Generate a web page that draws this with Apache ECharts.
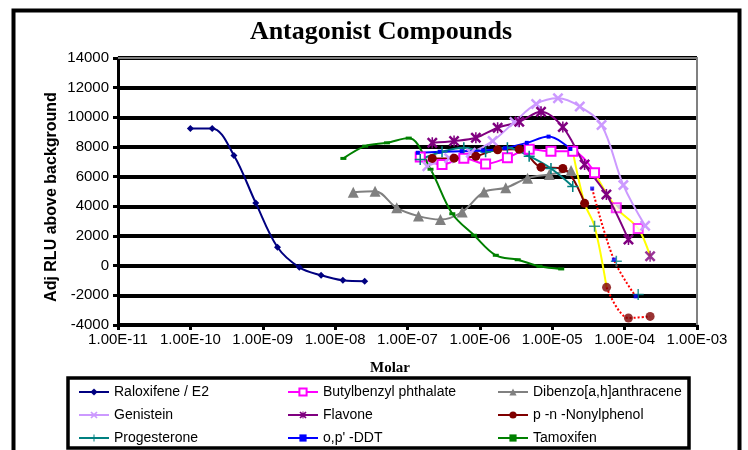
<!DOCTYPE html>
<html lang="en">
<head>
<meta charset="UTF-8">
<title>Antagonist Compounds</title>
<script src="https://cdn.jsdelivr.net/npm/echarts@6/dist/echarts.min.js"></script>
<style>
  html, body { margin: 0; padding: 0; background: #fff; }
  #main { width: 748px; height: 450px; }
</style>
</head>
<body>
<div id="main"></div>
<script>
// x tick labels (one per decade, 1e-11 .. 1e-3)
var xTickLabels = ['1.00E-11', '1.00E-10', '1.00E-09', '1.00E-08', '1.00E-07',
                   '1.00E-06', '1.00E-05', '1.00E-04', '1.00E-03'];

// [molar, adj RLU]
var raloxifene = [[1e-10, 9250], [2e-10, 9250], [4e-10, 7430], [8e-10, 4230], [1.6e-9, 1240],
                  [3.2e-9, -110], [6.4e-9, -650], [1.28e-8, -990], [2.56e-8, -1050]];
var butylbenzyl = [[1.5e-7, 7320], [3e-7, 6820], [6e-7, 7250], [1.2e-6, 6860], [2.4e-6, 7270],
                   [4.8e-6, 7840], [9.6e-6, 7720], [1.92e-5, 7720], [3.84e-5, 6260]];
var butylbenzylTail = [[7.68e-5, 3900], [1.54e-4, 2500]];
var dibenzo = [[1.78e-8, 4950], [3.56e-8, 5020], [7.1e-8, 3900], [1.42e-7, 3340], [2.85e-7, 3110],
               [5.7e-7, 3620], [1.14e-6, 4970], [2.28e-6, 5250], [4.56e-6, 5900], [9.1e-6, 6150],
               [1.82e-5, 6420]];
var genistein = [[1.88e-7, 6710], [3.76e-7, 7250], [7.5e-7, 7610], [1.5e-6, 8400], [3e-6, 9680],
                 [6e-6, 10900], [1.2e-5, 11280], [2.4e-5, 10730], [4.8e-5, 9480], [9.6e-5, 5430],
                 [1.92e-4, 2690]];
var flavone = [[2.2e-7, 8280], [4.4e-7, 8400], [8.8e-7, 8620], [1.76e-6, 9300], [3.5e-6, 9700],
               [7e-6, 10380], [1.4e-5, 9340], [2.8e-5, 6820], [5.6e-5, 4800], [1.13e-4, 1760]];
var flavoneTail = [[2.25e-4, 640]];
var nonylphenol = [[2.2e-7, 7230], [4.4e-7, 7250], [8.8e-7, 7380], [1.76e-6, 7810], [3.5e-6, 7840],
                   [7e-6, 6640], [1.4e-5, 6550], [2.8e-5, 4200]];
var nonylphenolTail = [[5.63e-5, -1460], [1.13e-4, -3530], [2.25e-4, -3420]];
var progesterone = [[1.5e-7, 7160], [3e-7, 7680], [6e-7, 7950], [1.2e-6, 7680], [2.4e-6, 7950],
                    [4.8e-6, 7380], [9.6e-6, 6550], [1.92e-5, 5340]];
var progesteroneTail = [[3.84e-5, 2660], [7.68e-5, 300], [1.54e-4, -1950]];
var ddt = [[1.39e-7, 7610], [2.78e-7, 7680], [5.6e-7, 7720], [1.11e-6, 7770], [2.22e-6, 7920],
           [4.45e-6, 8280], [8.9e-6, 8700], [1.78e-5, 7870]];
var ddtTail = [[3.56e-5, 5200], [7.1e-5, 410], [1.42e-4, -2070]];
var tamoxifen = [[1.3e-8, 7230], [2.6e-8, 8060], [5.2e-8, 8280], [1.04e-7, 8600], [2.08e-7, 6500],
                 [4.16e-7, 3500], [8.32e-7, 2050], [1.66e-6, 700], [3.33e-6, 400], [6.66e-6, -40],
                 [1.33e-5, -220]];

// highlighted high-dose segments (yellow solid, red dotted)
var yellowA = [[1.92e-5, 7720], [2.8e-5, 4200], [3.84e-5, 2660], [5.63e-5, -1460]];
var yellowB = [[3.84e-5, 6260], [7.68e-5, 3900], [1.54e-4, 2500], [2.25e-4, 640]];
var redA = [[3.56e-5, 5200], [7.1e-5, 410], [1.42e-4, -2070]];
var redB = [[5.63e-5, -1460], [1.13e-4, -3530], [2.25e-4, -3420]];

var SANS = 'Liberation Sans, Arial, sans-serif';
var SERIF = 'Liberation Serif, Times New Roman, serif';

var xMark = 'path://M0,1.6L1.6,0L5,3.4L8.4,0L10,1.6L6.6,5L10,8.4L8.4,10L5,6.6L1.6,10L0,8.4L3.4,5Z';
var plusMark = 'path://M4.3,0H5.7V4.3H10V5.7H5.7V10H4.3V5.7H0V4.3H4.3Z';
var starMark = xMark + 'M4.3,0H5.7V10H4.3Z';

function line(name, data, color, symbol, size, itemStyle) {
  return {
    name: name, type: 'line', data: data, smooth: 0.35,
    symbol: symbol, symbolSize: size, showSymbol: true,
    lineStyle: { color: color, width: 2 },
    itemStyle: itemStyle || { color: color },
    emphasis: { disabled: true }
  };
}
function marks(name, data, color, symbol, size, itemStyle) {
  return {
    name: name, type: 'scatter', data: data,
    symbol: symbol, symbolSize: size,
    itemStyle: itemStyle || { color: color },
    emphasis: { disabled: true }
  };
}
function overlay(name, data, color, type) {
  return {
    name: name, type: 'line', data: data, smooth: 0.35, showSymbol: false,
    lineStyle: { color: color, width: 2, type: type },
    emphasis: { disabled: true }, z: 1
  };
}

var butylStyle = { color: '#ffffff', borderColor: '#FF00FF', borderWidth: 2 };

var chart = echarts.init(document.getElementById('main'));
var legendText = { fontFamily: SANS, fontSize: 14, color: '#000' };
function legendCol(left, names) {
  return {
    data: names, orient: 'vertical', left: left, top: 385,
    itemWidth: 30, itemHeight: 9, itemGap: 9, padding: 0,
    textStyle: legendText, selectedMode: false
  };
}

var option = {
  animation: false,
  backgroundColor: '#fff',
  grid: { left: 118, top: 58, width: 579, height: 267, containLabel: false },
  xAxis: {
    type: 'log', logBase: 10, min: 1e-11, max: 1e-3,
    axisLine: { show: true, onZero: false, lineStyle: { color: '#000', width: 3 } },
    axisTick: { show: true, length: 5, lineStyle: { color: '#000', width: 3 } },
    minorTick: { show: false },
    splitLine: { show: false },
    axisLabel: {
      margin: 7, color: '#000', fontFamily: SANS, fontSize: 15,
      formatter: function (v) { return xTickLabels[Math.round(Math.log10(v)) + 11]; }
    }
  },
  yAxis: {
    type: 'value', min: -4000, max: 14000, interval: 2000,
    axisLine: { show: true, lineStyle: { color: '#000', width: 3 } },
    axisTick: { show: true, length: 5, lineStyle: { color: '#000', width: 3 } },
    splitLine: { show: true, lineStyle: { color: '#000', width: 4 } },
    axisLabel: {
      margin: 9, color: '#000', fontFamily: SANS, fontSize: 15,
      formatter: function (v) { return String(v); }
    }
  },
  legend: [
    legendCol(78, ['Raloxifene / E2', 'Genistein', 'Progesterone']),
    legendCol(287, ['Butylbenzyl phthalate', 'Flavone', "o,p' -DDT"]),
    legendCol(497, ['Dibenzo[a,h]anthracene', 'p -n -Nonylphenol', 'Tamoxifen'])
  ],
  graphic: [
    { type: 'rect', shape: { x: 13.5, y: 10.5, width: 726, height: 480 },
      style: { fill: 'none', stroke: '#000', lineWidth: 4 }, z: 100 },
    { type: 'rect', shape: { x: 68, y: 378, width: 621, height: 70 },
      style: { fill: 'none', stroke: '#000', lineWidth: 3.5 }, z: 100 },
    { type: 'polyline', shape: { points: [[118, 58], [697, 58], [697, 325]] },
      style: { fill: 'none', stroke: '#808080', lineWidth: 2 }, z: 100 },
    { type: 'text', x: 381, y: 32, z: 100,
      style: { text: 'Antagonist Compounds', align: 'center', verticalAlign: 'middle',
               fontFamily: SERIF, fontWeight: 'bold', fontSize: 26, fill: '#000' } },
    { type: 'text', x: 390, y: 368, z: 100,
      style: { text: 'Molar', align: 'center', verticalAlign: 'middle',
               fontFamily: SERIF, fontWeight: 'bold', fontSize: 15, fill: '#000' } },
    { type: 'text', x: 52, y: 197, rotation: Math.PI / 2, z: 100,
      style: { text: 'Adj RLU above background', align: 'center', verticalAlign: 'middle',
               fontFamily: SANS, fontWeight: 'bold', fontSize: 16, fill: '#000' } }
  ],
  series: [
    line('Raloxifene / E2', raloxifene, '#000080', 'diamond', 7),
    line('Butylbenzyl phthalate', butylbenzyl, '#FF00FF', 'rect', 9, butylStyle),
    line('Dibenzo[a,h]anthracene', dibenzo, '#808080', 'triangle', 11),
    line('Genistein', genistein, '#CC99FF', xMark, 11),
    line('Flavone', flavone, '#800080', starMark, 11),
    line('p -n -Nonylphenol', nonylphenol, '#800000', 'circle', 9),
    line('Progesterone', progesterone, '#008080', plusMark, 11),
    line("o,p' -DDT", ddt, '#0000FF', 'rect', 4),
    line('Tamoxifen', tamoxifen, '#008000', 'rect', [6, 3]),
    overlay('high dose A', yellowA, '#FFFF00', 'solid'),
    overlay('high dose B', yellowB, '#FFFF00', 'solid'),
    overlay('high dose C', redA, '#FF0000', 'dotted'),
    overlay('high dose D', redB, '#FF0000', 'dotted'),
    marks('butylbenzyl tail', butylbenzylTail, '#FF00FF', 'rect', 9, butylStyle),
    marks('flavone tail', flavoneTail, '#800080', starMark, 11),
    marks('nonylphenol tail', nonylphenolTail, '#800000', 'circle', 9),
    marks('progesterone tail', progesteroneTail, '#008080', plusMark, 11),
    marks('ddt tail', ddtTail, '#0000FF', 'rect', 4)
  ]
};
chart.setOption(option);
</script>
</body>
</html>
